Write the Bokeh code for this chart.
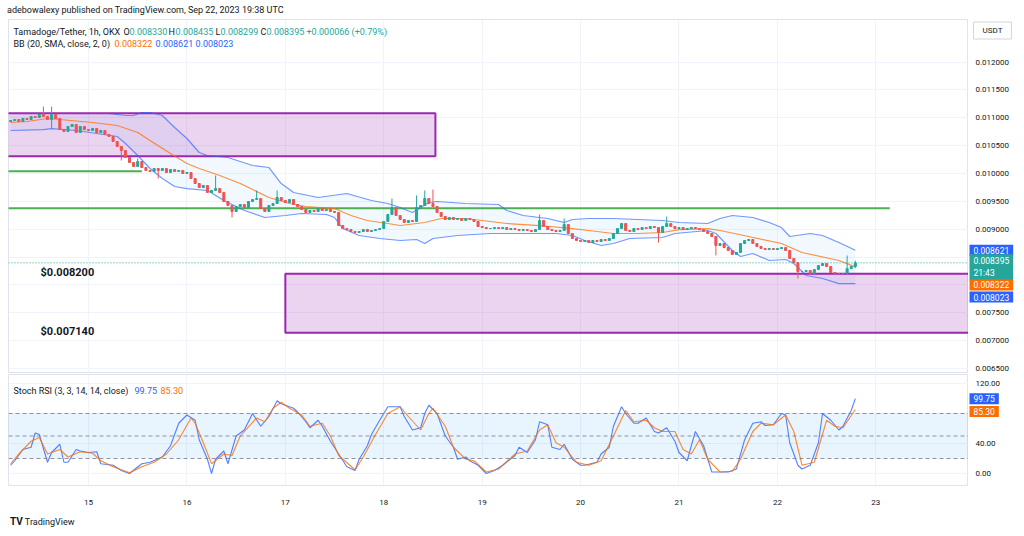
from bokeh.plotting import figure
from bokeh.models import (ColumnDataSource, FixedTicker, Span, Label, Div, Range1d)
from bokeh.layouts import column, row
from bokeh.core.properties import value
from bokeh.embed import file_html
from bokeh.resources import INLINE

# ---------------- data (hours counted from Sep 14 00:00 UTC) ----------------
candle_start_hour = 5          # first visible 1h candle: Sep 14 05:00
first_open = 0.010932
closes = [
    0.010950, 0.010968, 0.010932, 0.010986, 0.010968, 0.011022, 0.011004, 0.011058, 0.011022, 0.010968,
    0.011058, 0.010986, 0.010788, 0.010753, 0.010842, 0.010878, 0.010735, 0.010842, 0.010788, 0.010771,
    0.010806, 0.010735, 0.010771, 0.010699, 0.010663, 0.010573, 0.010483, 0.010412, 0.010286, 0.010196,
    0.010124, 0.010214, 0.010106, 0.010053, 0.010035, 0.010088, 0.010053, 0.010088, 0.010017, 0.010070,
    0.010035, 0.010053, 0.009999, 0.010017, 0.009909, 0.009819, 0.009747, 0.009783, 0.009658, 0.009694,
    0.009729, 0.009658, 0.009496, 0.009424, 0.009317, 0.009406, 0.009442, 0.009388, 0.009496, 0.009532,
    0.009550, 0.009370, 0.009317, 0.009424, 0.009460, 0.009568, 0.009514, 0.009478, 0.009532, 0.009442,
    0.009406, 0.009352, 0.009299, 0.009335, 0.009317, 0.009370, 0.009335, 0.009352, 0.009317, 0.009299,
    0.009065, 0.009011, 0.008993, 0.008958, 0.008940, 0.008958, 0.008993, 0.008958, 0.008976, 0.008993,
    0.009011, 0.009137, 0.009263, 0.009388, 0.009245, 0.009173, 0.009119, 0.009155, 0.009137, 0.009388,
    0.009424, 0.009550, 0.009460, 0.009406, 0.009299, 0.009227, 0.009173, 0.009209, 0.009173, 0.009191,
    0.009155, 0.009191, 0.009173, 0.009137, 0.009047, 0.009029, 0.009011, 0.009011, 0.009029, 0.009011,
    0.009029, 0.008993, 0.009011, 0.008993, 0.008976, 0.008993, 0.008976, 0.008958, 0.008993, 0.009155,
    0.009047, 0.008993, 0.008976, 0.008958, 0.008976, 0.009083, 0.008922, 0.008832, 0.008796, 0.008778,
    0.008796, 0.008760, 0.008796, 0.008778, 0.008814, 0.008796, 0.008832, 0.008922, 0.009011, 0.009101,
    0.008976, 0.008958, 0.009011, 0.008993, 0.009029, 0.009011, 0.009047, 0.009029, 0.008940, 0.009047,
    0.009101, 0.009047, 0.009011, 0.009029, 0.008993, 0.009011, 0.009029, 0.009011, 0.008993, 0.008958,
    0.008922, 0.008868, 0.008706, 0.008742, 0.008670, 0.008617, 0.008545, 0.008581, 0.008742, 0.008796,
    0.008814, 0.008742, 0.008688, 0.008652, 0.008634, 0.008652, 0.008634, 0.008652, 0.008670, 0.008617,
    0.008473, 0.008401, 0.008240, 0.008240, 0.008258, 0.008204, 0.008275, 0.008347, 0.008383, 0.008329,
    0.008222, 0.008204, 0.008204, 0.008204, 0.008290, 0.008330, 0.008395,
]
wick_highs = {8: 0.011201, 10: 0.011201, 31: 0.010268, 50: 0.009963, 60: 0.009694, 65: 0.009694,
              93: 0.009550, 99: 0.009604, 101: 0.009694, 103: 0.009711, 129: 0.009263,
              135: 0.009191, 160: 0.009227, 204: 0.008527, 206: 0.008435}
wick_lows = {10: 0.010806, 27: 0.010232, 36: 0.009909, 54: 0.009209, 158: 0.008760,
             172: 0.008527, 192: 0.008114, 206: 0.008299}

bb_upper_h = [5, 12, 29, 31, 33, 35, 37, 39, 42, 45, 48, 51, 53, 58, 64, 68, 71, 74, 80, 87,
              93, 97, 100, 103, 107, 109, 116, 124, 126, 130, 136, 140, 142, 146, 152, 164, 168, 175, 178, 181,
              186, 190, 193, 195, 200, 203, 207, 211]
bb_upper = [0.011076, 0.011076, 0.011076, 0.011058, 0.011040, 0.011040, 0.011094, 0.011094, 0.011040, 0.010824,
            0.010627, 0.010376, 0.010322, 0.010286, 0.010142, 0.010106, 0.009819, 0.009658, 0.009568, 0.009640,
            0.009514, 0.009460, 0.009388, 0.009299, 0.009478, 0.009496, 0.009460, 0.009442, 0.009335, 0.009245,
            0.009191, 0.009119, 0.009173, 0.009191, 0.009191, 0.009155, 0.009119, 0.009101, 0.009191, 0.009245,
            0.009209, 0.009119, 0.009029, 0.008868, 0.008922, 0.008886, 0.008760, 0.008621]
bb_basis_h = [5, 9, 14, 17, 25, 31, 36, 39, 44, 48, 51, 56, 61, 68, 73, 77, 84, 88, 92, 97,
              100, 106, 110, 116, 120, 126, 134, 142, 146, 152, 158, 164, 168, 175, 178, 185, 193, 198, 207, 211]
bb_basis = [0.010914, 0.010932, 0.010986, 0.010968, 0.010914, 0.010860, 0.010735, 0.010591, 0.010358, 0.010178,
            0.010088, 0.009963, 0.009819, 0.009568, 0.009460, 0.009406, 0.009370, 0.009245, 0.009155, 0.009101,
            0.009065, 0.009119, 0.009191, 0.009191, 0.009155, 0.009101, 0.009065, 0.009011, 0.008976, 0.008922,
            0.008922, 0.008940, 0.008993, 0.009011, 0.008976, 0.008868, 0.008742, 0.008581, 0.008437, 0.008322]
bb_lower_h = [5, 13, 15, 21, 26, 31, 33, 36, 39, 42, 45, 48, 53, 57, 62, 67, 72, 76, 82, 84,
              86, 90, 95, 100, 104, 106, 108, 114, 122, 130, 138, 142, 145, 149, 152, 156, 164, 167, 175, 177,
              181, 183, 186, 190, 194, 196, 199, 203, 207, 211]
bb_lower = [0.010771, 0.010788, 0.010806, 0.010771, 0.010717, 0.010663, 0.010537, 0.010322, 0.010088, 0.009909,
            0.009765, 0.009729, 0.009694, 0.009514, 0.009335, 0.009209, 0.009245, 0.009281, 0.009263, 0.009209,
            0.009011, 0.008886, 0.008832, 0.008796, 0.008814, 0.008742, 0.008832, 0.008886, 0.008922, 0.008922,
            0.008922, 0.008886, 0.008796, 0.008706, 0.008742, 0.008832, 0.008850, 0.008922, 0.008976, 0.008922,
            0.008617, 0.008509, 0.008563, 0.008437, 0.008455, 0.008383, 0.008168, 0.008114, 0.008023, 0.008023]

stoch_k_h = [5, 6, 8, 10, 11, 12, 14, 15, 17, 18, 19, 21, 22, 24, 26, 27, 30, 32, 34, 37,
             39, 42, 44, 46, 48, 50, 51, 53, 54, 55, 57, 58, 60, 62, 64, 66, 68, 70, 71, 74,
             75, 77, 78, 80, 81, 83, 85, 87, 89, 90, 92, 93, 95, 97, 98, 100, 101, 103, 105, 106,
             107, 109, 111, 113, 114, 116, 117, 119, 121, 123, 125, 128, 129, 131, 133, 134, 136, 137, 139, 140,
             142, 144, 145, 148, 149, 151, 152, 154, 155, 157, 158, 160, 162, 163, 165, 167, 168, 170, 171, 172,
             174, 176, 178, 180, 182, 184, 186, 188, 189, 191, 193, 194, 195, 197, 198, 200, 202, 203, 205, 207,
             208, 210, 211]
stoch_k = [11, 17, 32, 35, 54, 52, 15, 28, 39, 15, 15, 32, 30, 28, 29, 13, 11, 4, 0, 13,
           15, 22, 37, 67, 78, 71, 45, 19, 0, 19, 30, 13, 50, 58, 80, 63, 76, 97, 93, 87,
           82, 69, 61, 71, 63, 43, 26, 9, 4, 19, 37, 52, 71, 89, 89, 89, 76, 58, 61, 80,
           91, 80, 50, 35, 19, 22, 17, 11, 0, 4, 11, 24, 35, 28, 45, 69, 65, 35, 32, 39,
           19, 11, 11, 15, 26, 35, 63, 89, 80, 67, 67, 74, 56, 54, 61, 43, 28, 17, 37, 56,
           37, 2, 2, 2, 6, 45, 67, 69, 64, 65, 80, 78, 41, 11, 6, 11, 41, 80, 71, 58,
           63, 84, 99.75]
stoch_d_h = [5, 7, 10, 12, 14, 17, 19, 22, 25, 27, 30, 34, 37, 40, 43, 46, 49, 50, 52, 54,
             57, 59, 61, 65, 67, 69, 71, 73, 76, 78, 81, 83, 85, 89, 91, 94, 97, 100, 102, 105,
             107, 108, 111, 113, 116, 118, 121, 124, 128, 131, 134, 136, 138, 140, 143, 146, 149, 152, 155, 157,
             160, 162, 164, 167, 169, 171, 173, 175, 178, 181, 183, 186, 188, 191, 194, 196, 198, 201, 204, 206,
             208, 211]
stoch_d = [13, 26, 43, 48, 26, 32, 22, 29, 27, 17, 9, 1, 9, 15, 26, 45, 74, 67, 41, 13,
           26, 24, 50, 74, 69, 87, 95, 87, 78, 63, 67, 50, 24, 5, 22, 52, 80, 89, 76, 58,
           80, 87, 63, 35, 19, 17, 2, 6, 26, 30, 58, 65, 41, 35, 15, 11, 17, 50, 84, 69,
           71, 61, 56, 56, 32, 26, 45, 19, 2, 3, 19, 56, 67, 65, 78, 56, 11, 15, 71, 63,
           61, 85.3]

# drawings: zones and horizontal lines
zone_left = [-50, 72]
zone_right = [108.6, 400]
zone_top = [0.01108, 0.0082]
zone_bottom = [0.01031, 0.00714]
zone_labels = ["$0.008200", "$0.007140"]
hline_start = [-50, -50]
hline_end = [37, 219.4]
hline_price = [0.01004, 0.009376]

last_close = 0.008395
bb_last = [0.008322, 0.008621, 0.008023]
stoch_last = [99.75, 85.30]

price_ticks = [0.0065, 0.007, 0.0075, 0.009, 0.0095, 0.01, 0.0105, 0.011, 0.0115, 0.012]
price_grid = [0.0065, 0.007, 0.0075, 0.008, 0.0085, 0.009, 0.0095, 0.01, 0.0105, 0.011, 0.0115, 0.012]
day_ticks = [24, 48, 72, 96, 120, 144, 168, 192, 216]
day_labels = ["15", "16", "17", "18", "19", "20", "21", "22", "23"]
rsi_ticks = [0, 40, 120]
rsi_levels = [80, 50, 20]

# ---------------- styling ----------------
FONT = "Roboto"
TXT = "#131722"
GRID = "#f0f3fa"
UP, DOWN = "#26a69a", "#ef5350"
BLUE, ORANGE, TEAL = "#2962ff", "#ff6d00", "#26a69a"
WL, WS = 968, 56          # chart pane width (incl. 8px left border) and price-scale width
MAIN_H, RSI_H = 354, 137

X_RANGE = Range1d(4.49, 238.6)
P_RANGE = Range1d(0.006409, 0.012763)
R_RANGE = Range1d(-16, 132)


def base_fig(w, h, xr, yr, **kw):
    f = figure(width=w, height=h, output_backend="svg", toolbar_location=None,
               x_range=xr, y_range=yr, background_fill_color="white",
               border_fill_color="white", **kw)
    f.margin = (0, 0, 0, 0)
    return f


def lab(fig, x, y, text, color=TXT, size="9px", **kw):
    fig.add_layout(Label(x=x, y=y, x_units="screen", y_units="screen", text=text,
                         text_font=FONT, text_font_size=size, text_color=color,
                         text_baseline="middle", **kw))


def badge(fig, yv, text, color, yoff=0):
    fig.add_layout(Label(x=1, y=yv, text=text, text_font=FONT,
                         text_font_size="8.5px", text_color="white", text_baseline="middle",
                         background_fill_color=color, y_offset=yoff,
                         padding=dict(left=4, right=4, top=2, bottom=2)))


def scale_fig(h, yr, ticks, fmt, top, bottom):
    s = base_fig(WS, h, Range1d(0, WS), yr, x_axis_location=None, y_axis_location=None,
                 min_border_left=0, min_border_right=0, min_border_top=top,
                 min_border_bottom=bottom, outline_line_color=None)
    s.grid.visible = False
    s.text(x=[7] * len(ticks), y=ticks, text=[fmt % t for t in ticks],
           text_font=value(FONT), text_font_size=value("8px"), text_color=TXT,
           text_baseline=value("middle"), text_align=value("left"))
    return s


# ---------------- main pane ----------------
p = base_fig(WL, MAIN_H, X_RANGE, P_RANGE, x_axis_location=None, y_axis_location=None,
             min_border_left=8, min_border_right=0, min_border_top=0, min_border_bottom=0,
             outline_line_color="#e0e3eb")
p.ygrid.ticker = FixedTicker(ticks=price_grid)
p.xgrid.ticker = FixedTicker(ticks=day_ticks)
p.grid.grid_line_color = GRID

# Bollinger band fill
p.patch(bb_upper_h + bb_lower_h[::-1], bb_upper + bb_lower[::-1],
        fill_color="#2196f3", fill_alpha=0.06, line_color=None)

# zones
zsrc = ColumnDataSource(dict(left=zone_left, right=zone_right, top=zone_top, bottom=zone_bottom))
p.quad(left="left", right="right", top="top", bottom="bottom", source=zsrc,
       fill_color="#9c27b0", fill_alpha=0.2, line_color="#9c27b0", line_width=2)

# horizontal green lines
p.segment(x0=hline_start, y0=hline_price, x1=hline_end, y1=hline_price,
          line_color="#4caf50", line_width=2)

# bands
p.line(bb_upper_h, bb_upper, line_color=BLUE, line_alpha=0.65, line_width=1.2)
p.line(bb_lower_h, bb_lower, line_color=BLUE, line_alpha=0.65, line_width=1.2)
p.line(bb_basis_h, bb_basis, line_color=ORANGE, line_alpha=0.75, line_width=1.2)

# candles
hours = [candle_start_hour + i for i in range(len(closes))]
opens = [first_open] + closes[:-1]
highs = [wick_highs.get(i, max(o, c)) for i, (o, c) in enumerate(zip(opens, closes))]
lows = [wick_lows.get(i, min(o, c)) for i, (o, c) in enumerate(zip(opens, closes))]
cols = [UP if c >= o else DOWN for o, c in zip(opens, closes)]
csrc = ColumnDataSource(dict(h=hours, hi=highs, lo=lows, col=cols,
                             top=[max(o, c) for o, c in zip(opens, closes)],
                             bot=[min(o, c) for o, c in zip(opens, closes)]))
p.segment(x0="h", y0="lo", x1="h", y1="hi", line_color="col", line_width=1, source=csrc)
p.vbar(x="h", width=0.5, top="top", bottom="bot", fill_color="col", line_color="col",
       line_width=1, source=csrc)

# current price dotted line
p.add_layout(Span(location=last_close, dimension="width", line_color=TEAL,
                  line_dash="1 2", line_width=1))

# zone price labels
for zl, yv in zip(zone_labels, [zone_top[1], zone_bottom[1]]):
    p.add_layout(Label(x=12.3, y=yv, text=zl, text_font=FONT, text_font_size="11px",
                       text_font_style="bold", text_color=TXT, text_baseline="middle",
                       y_offset=1))

# legends (screen units relative to frame bottom-left; frame bottom = page y 373)
y1 = 354 - 12
lab(p, 5, y1, "Tamadoge/Tether, 1h, OKX")
lab(p, 115, y1, "O"); lab(p, 121, y1, "0.008330", TEAL)
lab(p, 160, y1, "H"); lab(p, 167, y1, "0.008435", TEAL)
lab(p, 207, y1, "L"); lab(p, 212, y1, "0.008299", TEAL)
lab(p, 252, y1, "C"); lab(p, 258, y1, "0.008395", TEAL)
lab(p, 298, y1, "+0.000066 (+0.79%)", TEAL)
y2 = 354 - 24
lab(p, 5, y2, "BB (20, SMA, close, 2, 0)")
lab(p, 106, y2, "0.008322", ORANGE)
lab(p, 147, y2, "0.008621", BLUE)
lab(p, 187, y2, "0.008023", BLUE)

# price scale
ps = scale_fig(MAIN_H, P_RANGE, price_ticks, "%.6f", 0, 0)
ps.add_layout(Label(x=24, y=354 - 11, x_units="screen", y_units="screen", text="USDT",
                    text_font=FONT, text_font_size="8px", text_color=TXT, text_align="center",
                    text_baseline="middle", background_fill_color="white",
                    border_line_color="#d1d4dc",
                    padding=dict(left=9, right=9, top=4, bottom=4)))
badge(ps, bb_last[1], "0.008621", BLUE)
badge(ps, last_close, "0.008395\n21:43", TEAL, yoff=-4.5)
badge(ps, bb_last[0], "0.008322", ORANGE, yoff=-18)
badge(ps, bb_last[2], "0.008023", BLUE, yoff=-13.5)

# ---------------- Stoch RSI pane ----------------
r = base_fig(WL, RSI_H, X_RANGE, R_RANGE, y_axis_location=None,
             min_border_left=8, min_border_right=0, min_border_top=1, min_border_bottom=25,
             outline_line_color="#e0e3eb")
r.xaxis.ticker = FixedTicker(ticks=day_ticks)
r.xaxis.major_label_overrides = {t: l for t, l in zip(day_ticks, day_labels)}
r.xaxis.major_tick_line_color = None
r.xaxis.minor_tick_line_color = None
r.xaxis.axis_line_color = None
r.xaxis.major_label_text_font_size = "8px"
r.xaxis.major_label_text_font = FONT
r.xaxis.major_label_text_color = TXT
r.xaxis.major_label_standoff = 8
r.ygrid.ticker = FixedTicker(ticks=[0, 40, 80, 120])
r.xgrid.ticker = FixedTicker(ticks=day_ticks)
r.grid.grid_line_color = GRID

r.quad(left=[-50], right=[400], bottom=[rsi_levels[2]], top=[rsi_levels[0]],
       fill_color="#2196f3", fill_alpha=0.1, line_color=None)
for lv in rsi_levels:
    r.add_layout(Span(location=lv, dimension="width", line_color="#787b86",
                      line_dash="4 3", line_width=1, line_alpha=0.8))
r.line(stoch_k_h, stoch_k, line_color=BLUE, line_width=1.1, line_alpha=0.8)
r.line(stoch_d_h, stoch_d, line_color=ORANGE, line_width=1.1, line_alpha=0.8)

lab(r, 5, 111 - 16, "Stoch RSI (3, 3, 14, 14, close)")
lab(r, 126, 111 - 16, "99.75", BLUE)
lab(r, 152, 111 - 16, "85.30", ORANGE)

rs = scale_fig(RSI_H, R_RANGE, rsi_ticks, "%.2f", 1, 25)
badge(rs, stoch_last[0], "99.75", BLUE)
badge(rs, stoch_last[1], "85.30", ORANGE, yoff=-2)

header = Div(text='<div style="font-family:Roboto;font-size:9px;color:#131722;'
                  'padding:4px 0 0 7px;line-height:12px;white-space:nowrap;">'
                  'adebowalexy published on TradingView.com, Sep 22, 2023 19:38 UTC</div>',
             width=WL + WS, height=19, margin=(0, 0, 0, 0))
footer = Div(text='<div style="font-family:Roboto;font-size:9px;color:#131722;'
                  'padding:6px 0 0 10px;line-height:12px;white-space:nowrap;">'
                  '<b style="font-size:10px;">TV</b> TradingView</div>',
             width=WL + WS, height=26, margin=(0, 0, 0, 0))

layout = column(header,
                row(p, ps, spacing=0),
                row(r, rs, spacing=0),
                footer, spacing=0)
open("out.html", "w").write(file_html(layout, INLINE))
